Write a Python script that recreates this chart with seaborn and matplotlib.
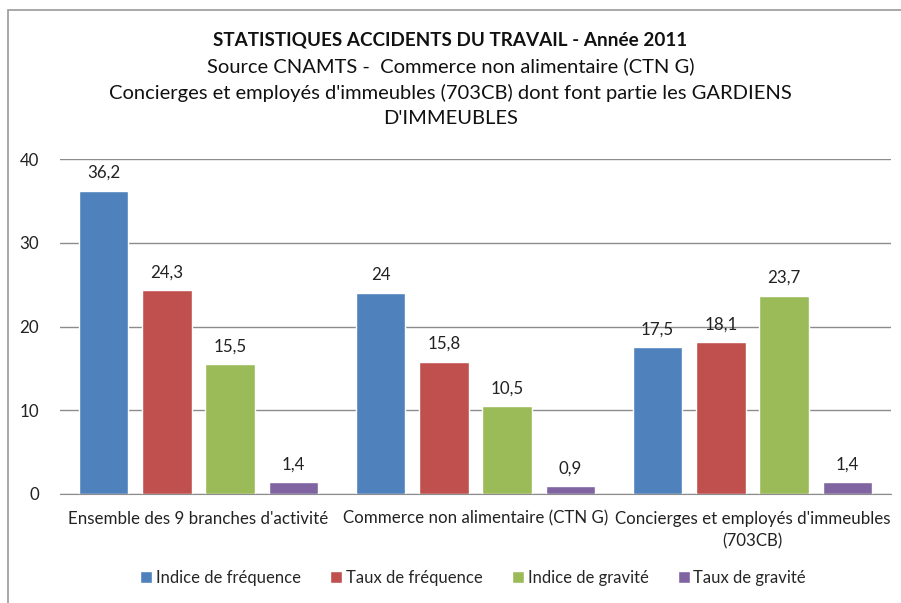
import pandas as pd
import matplotlib.pyplot as plt
import seaborn as sns
from matplotlib.patches import Rectangle

categories = ["Ensemble des 9 branches d'activité",
              "Commerce non alimentaire (CTN G)",
              "Concierges et employés d'immeubles\n(703CB)"]
series = ["Indice de fréquence", "Taux de fréquence", "Indice de gravité", "Taux de gravité"]
indice_frequence = [36.2, 24, 17.5]
taux_frequence = [24.3, 15.8, 18.1]
indice_gravite = [15.5, 10.5, 23.7]
taux_gravite = [1.4, 0.9, 1.4]
colors = ["#4F81BD", "#C0504D", "#9BBB59", "#8064A2"]

rows = []
for name, vals in zip(series, [indice_frequence, taux_frequence, indice_gravite, taux_gravite]):
    for cat, v in zip(categories, vals):
        rows.append({"cat": cat, "serie": name, "val": v})
df = pd.DataFrame(rows)

sns.set_style("white")
plt.rcParams['font.family'] = ['Lato', 'DejaVu Sans']

fig = plt.figure(figsize=(9.01, 6.03), dpi=100)
ax = fig.add_axes([60 / 901, 1 - 494 / 603, 831 / 901, 335 / 603])

sns.barplot(data=df, x="cat", y="val", hue="serie", palette=colors,
            width=0.915, gap=0.22, saturation=1, ax=ax, legend=True)

for cont in ax.containers:
    labels = [f"{v:g}".replace(".", ",") for v in cont.datavalues]
    ax.bar_label(cont, labels=labels, padding=7, fontsize=12.2, color="#222222")

ax.set_xlim(-0.5, 2.5)
ax.set_ylim(0, 40)
ax.set_yticks([0, 10, 20, 30, 40])
ax.set_xlabel("")
ax.set_ylabel("")
ax.yaxis.grid(True, color="#8c8c8c", linewidth=1)
ax.set_axisbelow(True)
for s in ["left", "right", "top"]:
    ax.spines[s].set_visible(False)
ax.spines["bottom"].set_color("#8c8c8c")
ax.tick_params(axis="y", length=0, pad=15, labelsize=12.2, labelcolor="#222222")
ax.tick_params(axis="x", length=0, pad=12, labelsize=12.2, labelcolor="#222222")
for lab in ax.get_xticklabels():
    lab.set_linespacing(1.5)

ax.legend(loc="center", bbox_to_anchor=(0.525, 1 - 578 / 603), bbox_transform=fig.transFigure,
          ncol=4, frameon=False, fontsize=12, handlelength=0.75, handleheight=0.75,
          handletextpad=0.2, columnspacing=1.75)

fig.text(0.5, 1 - 40 / 603, "STATISTIQUES ACCIDENTS DU TRAVAIL - Année 2011",
         ha="center", va="center", fontsize=13.6, fontweight="bold", color="#111111")
fig.text(0.5, 1 - 66 / 603, "Source CNAMTS -  Commerce non alimentaire (CTN G)",
         ha="center", va="center", fontsize=14.5, color="#111111")
fig.text(0.5, 1 - 93 / 603, "Concierges et employés d'immeubles (703CB) dont font partie les GARDIENS",
         ha="center", va="center", fontsize=14.5, color="#111111")
fig.text(0.5, 1 - 119 / 603, "D'IMMEUBLES",
         ha="center", va="center", fontsize=14.5, color="#111111")

fig.patches.append(Rectangle((8 / 901, -0.1), 1.2, 1 - 10 / 603 + 0.1,
                             transform=fig.transFigure, fill=False,
                             edgecolor="#9a9a9a", linewidth=1.2))

fig.savefig("out.png", dpi=100)
